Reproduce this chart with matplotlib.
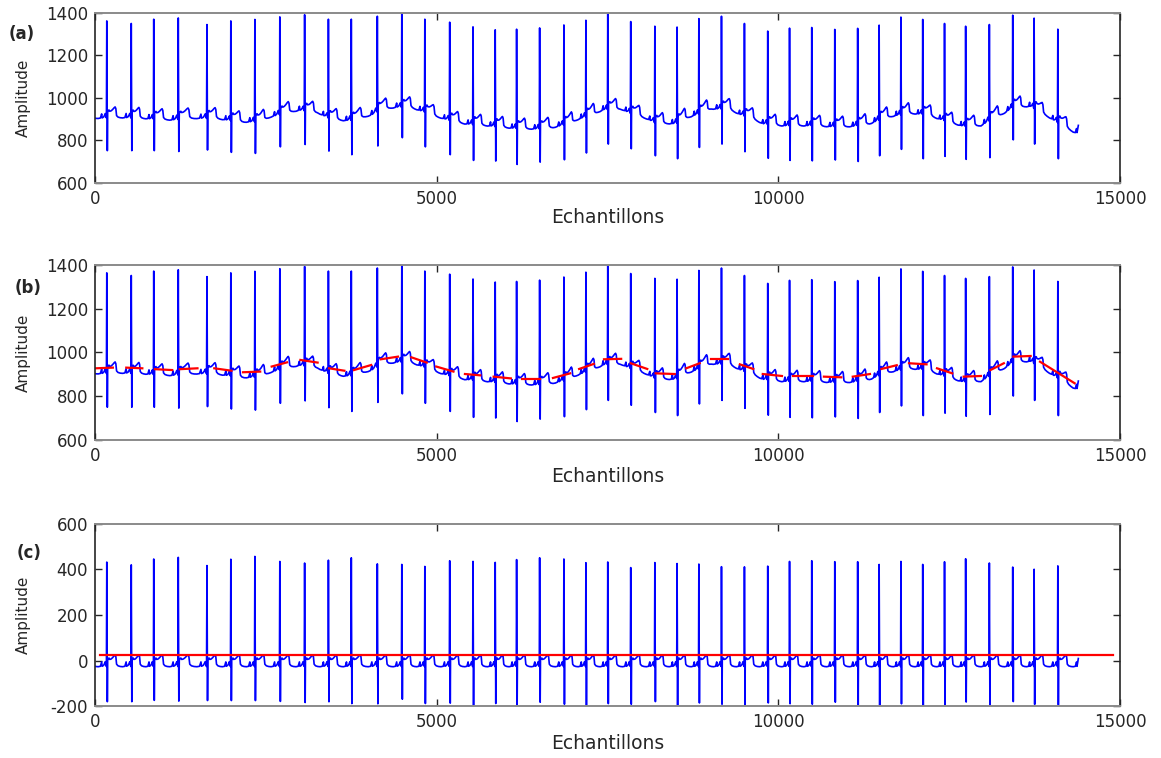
import numpy as np
import matplotlib
matplotlib.use("Agg")
import matplotlib.pyplot as plt

# R-peak positions (samples) of each heartbeat
beat_pos = [173, 531, 860, 1219, 1639, 1988, 2340, 2705, 3068, 3416, 3751, 4132,
            4490, 4827, 5191, 5532, 5857, 6170, 6507, 6862, 7184, 7504, 7840, 8193,
            8518, 8837, 9168, 9504, 9845, 10164, 10489, 10826, 11161, 11475, 11794,
            12113, 12432, 12741, 13088, 13430, 13743, 14090]
# R-peak amplitudes of the raw recording
r_peak = [1362, 1350, 1370, 1376, 1345, 1362, 1369, 1381, 1391, 1370, 1370, 1384,
          1402, 1370, 1356, 1334, 1320, 1323, 1329, 1343, 1365, 1402, 1359, 1337,
          1333, 1373, 1384, 1350, 1314, 1328, 1331, 1322, 1327, 1342, 1380, 1369,
          1350, 1337, 1345, 1389, 1375, 1323]
# S-wave minima of the raw recording
s_trough = [751, 751, 751, 747, 754, 743, 738, 769, 780, 749, 732, 773,
            812, 769, 732, 705, 702, 686, 697, 708, 740, 782, 760, 727,
            713, 766, 782, 746, 715, 705, 703, 707, 700, 727, 757, 713,
            724, 710, 718, 802, 782, 713]

# Baseline wander estimate: one segment per window (start, end, value at start, value at end)
seg_start = [10, 458, 878, 1242, 1746, 2166, 2586, 3006, 3426, 3790, 4182, 4630,
             4994, 5414, 5834, 6254, 6702, 7085, 7449, 7840, 8205, 8652, 9017, 9437,
             9772, 10220, 10667, 11089, 11509, 11912, 12322, 12712, 13104, 13440, 13829]
seg_end = [262, 693, 1130, 1500, 1998, 2418, 2810, 3258, 3650, 4042, 4434, 4854,
           5246, 5638, 6086, 6506, 6954, 7300, 7700, 8082, 8484, 8849, 9268, 9633,
           10053, 10501, 10921, 11341, 11733, 12169, 12545, 12965, 13300, 13692, 14336]
seg_v0 = [928, 931, 924, 924, 928, 910, 936, 966, 928, 920, 969, 978,
          936, 902, 890, 878, 884, 925, 969, 951, 905, 928, 972, 946,
          902, 893, 890, 890, 925, 951, 928, 890, 920, 981, 958]
seg_v1 = [931, 928, 920, 928, 917, 913, 955, 954, 917, 943, 981, 954,
          913, 896, 882, 878, 905, 948, 971, 925, 902, 951, 972, 925,
          893, 893, 887, 902, 942, 946, 905, 893, 951, 984, 860]

# Shape of one cardiac cycle between R peaks: phase (fraction of RR) and level above baseline
wave_phase = [0.035, 0.06, 0.09, 0.12, 0.18, 0.24, 0.30, 0.34, 0.37, 0.40, 0.46,
              0.55, 0.65, 0.74, 0.79, 0.81, 0.87, 0.91, 0.94, 0.965, 0.985]
wave_level = [2, 10, 12, 6, 8, 14, 22, 26, 18, -15, -22,
              -25, -26, -24, -5, -24, -20, -12, -4, -18, -25]

s_offset = 8            # samples between R peak and S minimum
record_end = 14390      # last sample of the recording
record_end_value = 870

# Reference level drawn over the corrected signal
ref_level = 25
ref_start, ref_end = 77, 14900

# ---------------------------------------------------------------------------
base_x = np.ravel(np.column_stack([seg_start, seg_end]))
base_y = np.ravel(np.column_stack([seg_v0, seg_v1]))


def baseline(x):
    return np.interp(x, base_x, base_y)


rr = np.diff(beat_pos)
rr = np.append(rr, rr[-1])
xs, ys = [], []
# cycle preceding the first beat
prev = beat_pos[0] - rr[0]
for ph, lv in zip(wave_phase, wave_level):
    xs.append(prev + ph * rr[0]); ys.append(lv)
for b, r, s, d in zip(beat_pos, r_peak, s_trough, rr):
    xs.append(b); ys.append(r - baseline(b))
    xs.append(b + s_offset); ys.append(s - baseline(b + s_offset))
    for ph, lv in zip(wave_phase, wave_level):
        x = b + ph * d
        if x < record_end:
            xs.append(x); ys.append(lv)
xs.append(record_end); ys.append(record_end_value - baseline(record_end))
xs = np.array(xs)
detrended = np.array(ys)
raw = detrended + baseline(xs)

# ---------------------------------------------------------------------------
plt.rcParams['font.family'] = ['DejaVu Sans']
plt.rcParams['axes.unicode_minus'] = False
fig = plt.figure(figsize=(11.61, 7.58), dpi=100)
fig.patch.set_facecolor('white')

dark = '#262626'
boxes = [[0.0818, 0.759, 0.8829, 0.224],
         [0.0818, 0.419, 0.8829, 0.232],
         [0.0818, 0.068, 0.8829, 0.241]]
tags = ['(a)', '(b)', '(c)']
tag_pos = [(0.0072, 0.955), (0.0125, 0.620), (0.0146, 0.270)]
axes = []
for box, tag, tp in zip(boxes, tags, tag_pos):
    ax = fig.add_axes(box)
    ax.set_xlim(0, 15000)
    ax.set_xticks([0, 5000, 10000, 15000])
    ax.tick_params(direction='in', top=True, right=True, length=5, width=1.0,
                   colors=dark, labelsize=12, pad=5)
    for side in ['left', 'right']:
        ax.spines[side].set_color(dark)
        ax.spines[side].set_linewidth(1.2)
    for side in ['top', 'bottom']:
        ax.spines[side].set_color('#8a8a8a')
        ax.spines[side].set_linewidth(1.4)
    ax.set_xlabel('Echantillons', fontsize=13.5, color=dark)
    ax.set_ylabel('Amplitude', fontsize=11, color=dark)
    ax.xaxis.set_label_coords(0.5, -0.15)
    ax.yaxis.set_label_coords(-0.063, 0.5)
    fig.text(tp[0], tp[1], tag, fontsize=12, fontweight='bold', color=dark,
             ha='left', va='center')
    axes.append(ax)

ax_a, ax_b, ax_c = axes

ax_a.plot(xs, raw, color='#0000ff', lw=1.2)
ax_a.set_ylim(600, 1400)
ax_a.set_yticks([600, 800, 1000, 1200, 1400])

ax_b.plot(xs, raw, color='#0000ff', lw=1.2)
for x0, x1, v0, v1 in zip(seg_start, seg_end, seg_v0, seg_v1):
    ax_b.plot([x0, x1], [v0, v1], color='#ff0000', lw=1.6)
ax_b.set_ylim(600, 1400)
ax_b.set_yticks([600, 800, 1000, 1200, 1400])

ax_c.plot(xs, detrended, color='#0000ff', lw=1.2)
ax_c.plot([ref_start, ref_end], [ref_level, ref_level], color='#ff0000', lw=1.6)
ax_c.set_ylim(-200, 600)
ax_c.set_yticks([-200, 0, 200, 400, 600])

fig.savefig('out.png', dpi=100)
